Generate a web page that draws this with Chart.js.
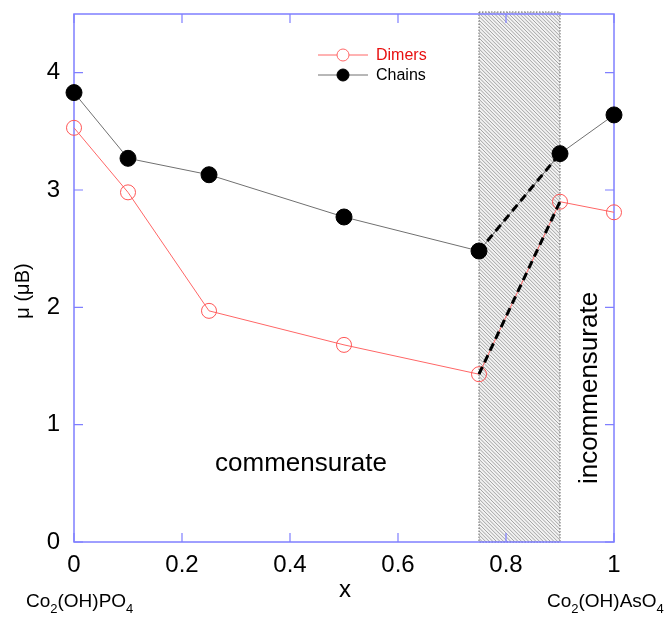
<!DOCTYPE html>
<html>
<head>
<meta charset="utf-8">
<script src="https://cdn.jsdelivr.net/npm/chart.js@4.4.1/dist/chart.umd.min.js"></script>
<style>
  html, body { margin: 0; padding: 0; background: #fff; }
  #wrap { width: 672px; height: 617px; }
</style>
</head>
<body>
<div id="wrap"><canvas id="chart"></canvas></div>
<script>
const xValues = [0, 0.1, 0.25, 0.5, 0.75, 0.9, 1];
const dimers = [3.53, 2.98, 1.97, 1.68, 1.43, 2.90, 2.81];
const chains = [3.83, 3.27, 3.13, 2.77, 2.48, 3.31, 3.64];
const xTicks = [0, 0.2, 0.4, 0.6, 0.8, 1];
const yTicks = [0, 1, 2, 3, 4];
const shadeRange = [0.75, 0.9];
const dashIdx = [4, 5];

const font = '"Liberation Sans", Arial, sans-serif';
const frameColor = '#7f7fff';

const pts = (ys) => xValues.map((x, i) => ({ x, y: ys[i] }));
const dashPts = (ys) => dashIdx.map((i) => ({ x: xValues[i], y: ys[i] }));

function noPad(s) {
    s.paddingTop = 0;
    s.paddingBottom = 0;
    s.paddingLeft = 0;
    s.paddingRight = 0;
}

const decor = {
    id: 'decor',
    beforeDatasetsDraw(chart) {
        const { ctx, chartArea: a, scales: { x, y } } = chart;
        const x0 = x.getPixelForValue(shadeRange[0]);
        const x1 = x.getPixelForValue(shadeRange[1]);
        const top = a.top - 2;
        const bottom = a.bottom;

        // hatched region
        ctx.save();
        ctx.beginPath();
        ctx.rect(x0, top, x1 - x0, bottom - top);
        ctx.clip();
        ctx.fillStyle = '#f2f2f2';
        ctx.fillRect(x0, top, x1 - x0, bottom - top);
        ctx.strokeStyle = '#8f8f8f';
        ctx.lineWidth = 0.8;
        const h = bottom - top;
        for (let s = x0 - h; s < x1; s += 3.6) {
            ctx.beginPath();
            ctx.moveTo(s, top);
            ctx.lineTo(s + h, bottom);
            ctx.stroke();
        }
        ctx.restore();
        ctx.save();
        ctx.strokeStyle = '#666';
        ctx.setLineDash([1.5, 1.5]);
        ctx.lineWidth = 1;
        ctx.strokeRect(x0, top, x1 - x0, bottom - top);
        ctx.restore();

        // frame and inward ticks
        ctx.save();
        ctx.strokeStyle = frameColor;
        ctx.lineWidth = 1.5;
        ctx.strokeRect(a.left, a.top, a.right - a.left, a.bottom - a.top);
        ctx.lineWidth = 1.2;
        const len = 9;
        ctx.beginPath();
        xTicks.forEach((v) => {
            const px = x.getPixelForValue(v);
            ctx.moveTo(px, a.bottom); ctx.lineTo(px, a.bottom - len);
            ctx.moveTo(px, a.top); ctx.lineTo(px, a.top + len);
        });
        yTicks.forEach((v) => {
            const py = y.getPixelForValue(v);
            ctx.moveTo(a.left, py); ctx.lineTo(a.left + len, py);
            ctx.moveTo(a.right, py); ctx.lineTo(a.right - len, py);
        });
        ctx.stroke();
        ctx.restore();
    },
    afterDraw(chart) {
        const { ctx } = chart;
        ctx.save();
        ctx.fillStyle = '#000';
        ctx.textAlign = 'center';
        ctx.textBaseline = 'middle';

        ctx.font = '26px ' + font;
        ctx.fillText('commensurate', 301, 464);

        ctx.save();
        ctx.translate(590, 388);
        ctx.rotate(-Math.PI / 2);
        ctx.fillText('incommensurate', 0, 0);
        ctx.restore();

        ctx.save();
        ctx.font = '20px ' + font;
        ctx.translate(23, 291);
        ctx.rotate(-Math.PI / 2);
        ctx.fillText('\u03bc (\u03bcB)', 0, 0);
        ctx.restore();

        ctx.font = '24px ' + font;
        ctx.fillText('x', 345, 590);

        // compound labels with subscripts
        const chem = (parts, x0, base) => {
            ctx.textAlign = 'left';
            ctx.textBaseline = 'alphabetic';
            let cx = x0;
            parts.forEach(([t, sub]) => {
                ctx.font = (sub ? '13px ' : '19px ') + font;
                ctx.fillText(t, cx, sub ? base + 6 : base);
                cx += ctx.measureText(t).width;
            });
        };
        chem([['Co'], ['2', 1], ['(OH)PO'], ['4', 1]], 26, 607);
        chem([['Co'], ['2', 1], ['(OH)AsO'], ['4', 1]], 547, 607);

        // legend
        const items = [
            { label: 'Dimers', y: 55, line: '#ff6666', text: '#e81010', fill: '#fff', edge: '#ff6666' },
            { label: 'Chains', y: 75, line: '#707070', text: '#000', fill: '#000', edge: '#000' },
        ];
        items.forEach((it) => {
            ctx.strokeStyle = it.line;
            ctx.lineWidth = 1;
            ctx.beginPath();
            ctx.moveTo(318, it.y); ctx.lineTo(368, it.y);
            ctx.stroke();
            ctx.beginPath();
            ctx.arc(343, it.y, 6, 0, Math.PI * 2);
            ctx.fillStyle = it.fill;
            ctx.fill();
            ctx.strokeStyle = it.edge;
            ctx.stroke();
            ctx.fillStyle = it.text;
            ctx.font = '16px ' + font;
            ctx.textAlign = 'left';
            ctx.textBaseline = 'middle';
            ctx.fillText(it.label, 376, it.y + 1);
        });
        ctx.restore();
    },
};

new Chart(document.getElementById('chart'), {
    type: 'scatter',
    data: {
        datasets: [
            {
                label: 'Dimers',
                data: pts(dimers),
                showLine: true,
                borderColor: '#ff6666',
                borderWidth: 1,
                pointRadius: 7.5,
                pointBackgroundColor: 'rgba(255,255,255,0)',
                pointBorderColor: '#ff5555',
                pointBorderWidth: 1,
                clip: false,
                order: 2,
            },
            {
                label: 'Chains',
                data: pts(chains),
                showLine: true,
                borderColor: '#707070',
                borderWidth: 1,
                pointRadius: 8,
                pointBackgroundColor: '#000',
                pointBorderColor: '#000',
                clip: false,
                order: 2,
            },
            {
                label: 'dimers-jump',
                data: dashPts(dimers),
                showLine: true,
                borderColor: '#000',
                borderWidth: 3,
                borderDash: [8, 5],
                pointRadius: 0,
                order: 1,
            },
            {
                label: 'chains-jump',
                data: dashPts(chains),
                showLine: true,
                borderColor: '#000',
                borderWidth: 3,
                borderDash: [8, 5],
                pointRadius: 0,
                order: 1,
            },
        ],
    },
    options: {
        responsive: true,
        maintainAspectRatio: false,
        animation: false,
        layout: { padding: { top: 14, right: 58, left: 0, bottom: 0 } },
        plugins: {
            legend: { display: false },
            tooltip: { enabled: false },
        },
        scales: {
            x: {
                type: 'linear',
                min: 0,
                max: 1,
                afterBuildTicks: (s) => { s.ticks = xTicks.map((v) => ({ value: v })); },
                afterFit: (s) => { s.height = 75; noPad(s); },
                grid: { display: false, drawTicks: false },
                border: { display: false },
                ticks: {
                    color: '#000',
                    font: { family: font, size: 24 },
                    padding: 9,
                    maxRotation: 0,
                    callback: (v) => String(v),
                },
            },
            y: {
                type: 'linear',
                min: 0,
                max: 4.5,
                afterBuildTicks: (s) => { s.ticks = yTicks.map((v) => ({ value: v })); },
                afterFit: (s) => { s.width = 74; noPad(s); },
                grid: { display: false, drawTicks: false },
                border: { display: false },
                ticks: { color: '#000', font: { family: font, size: 24 }, padding: 14 },
            },
        },
    },
    plugins: [decor],
});
</script>
</body>
</html>
